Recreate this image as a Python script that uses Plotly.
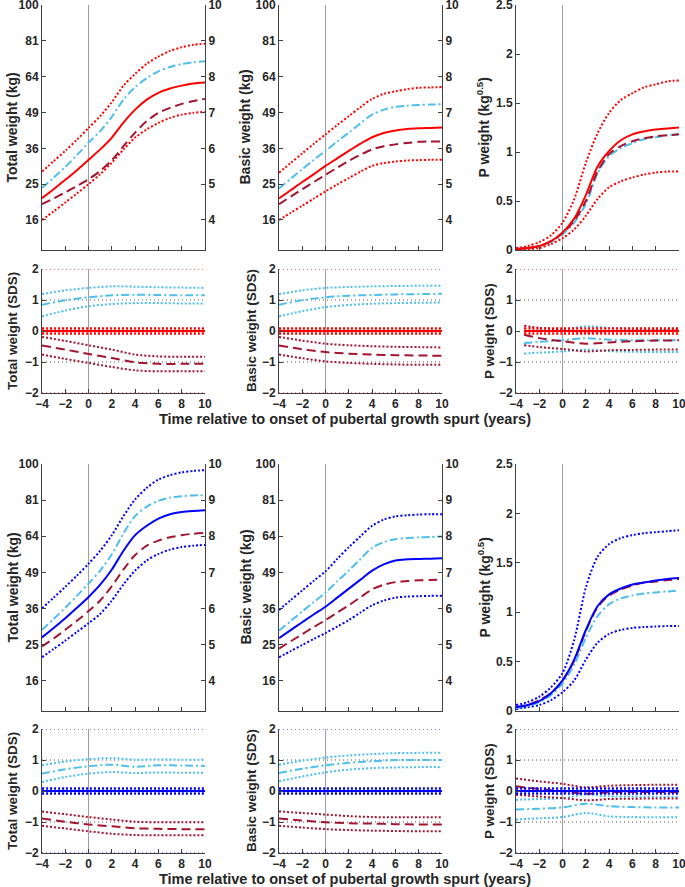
import plotly.graph_objects as go

# ---------------- data ----------------
# time relative to onset of pubertal growth spurt (years)
T = [-4, -3, -2, -1, 0, 1, 2, 3, 4, 5, 6, 7, 8, 9, 10]
T_SDS = [-4, -2, 0, 2, 4, 6, 8, 10]
T_SDS_P_TOP = [-3.3, -2, 0, 2, 4, 6, 8, 10]

# weight panels are in sqrt(kg) units (right axis), left axis labels show kg
# --- top block (red reference group) ---
top_total_ref = [4.61, 4.86, 5.12, 5.39, 5.68, 5.97, 6.30, 6.72, 7.08, 7.36, 7.55, 7.67, 7.75, 7.81, 7.84]
top_total_up = [5.35, 5.64, 5.93, 6.24, 6.57, 6.90, 7.29, 7.75, 8.08, 8.36, 8.56, 8.72, 8.82, 8.89, 8.92]
top_total_lo = [4.00, 4.24, 4.49, 4.74, 5.00, 5.28, 5.60, 5.97, 6.30, 6.53, 6.71, 6.85, 6.94, 6.99, 7.02]
top_total_lb = [4.89, 5.18, 5.48, 5.81, 6.16, 6.48, 6.88, 7.36, 7.71, 7.96, 8.15, 8.27, 8.35, 8.40, 8.43]
top_total_dr = [4.44, 4.60, 4.77, 4.95, 5.14, 5.37, 5.67, 6.06, 6.44, 6.76, 6.99, 7.13, 7.24, 7.32, 7.38]

top_basic_ref = [4.60, 4.83, 5.06, 5.28, 5.51, 5.72, 5.93, 6.13, 6.31, 6.43, 6.50, 6.54, 6.56, 6.57, 6.58]
top_basic_up = [5.32, 5.59, 5.86, 6.13, 6.39, 6.65, 6.90, 7.15, 7.38, 7.52, 7.59, 7.65, 7.69, 7.70, 7.71]
top_basic_lo = [4.00, 4.20, 4.40, 4.60, 4.80, 4.99, 5.17, 5.35, 5.51, 5.59, 5.63, 5.66, 5.67, 5.68, 5.68]
top_basic_lb = [4.88, 5.15, 5.42, 5.68, 5.93, 6.19, 6.44, 6.70, 6.94, 7.08, 7.16, 7.19, 7.21, 7.22, 7.23]
top_basic_dr = [4.44, 4.65, 4.86, 5.06, 5.26, 5.46, 5.65, 5.82, 5.97, 6.06, 6.11, 6.15, 6.18, 6.19, 6.19]

top_p_ref = [0.01, 0.02, 0.04, 0.09, 0.18, 0.32, 0.56, 0.85, 1.01, 1.12, 1.18, 1.21, 1.23, 1.24, 1.25]
top_p_up = [0.02, 0.04, 0.08, 0.15, 0.28, 0.52, 0.89, 1.19, 1.40, 1.53, 1.60, 1.66, 1.69, 1.72, 1.73]
top_p_lo = [0.00, 0.01, 0.02, 0.06, 0.12, 0.21, 0.35, 0.52, 0.64, 0.70, 0.74, 0.77, 0.79, 0.80, 0.80]
top_p_lb = [0.01, 0.02, 0.04, 0.08, 0.16, 0.28, 0.47, 0.78, 0.96, 1.04, 1.09, 1.13, 1.15, 1.17, 1.18]
top_p_dr = [0.01, 0.02, 0.04, 0.09, 0.17, 0.30, 0.50, 0.80, 0.98, 1.06, 1.11, 1.14, 1.16, 1.17, 1.18]

# --- bottom block (blue reference group) ---
bot_total_ref = [5.20, 5.46, 5.73, 6.02, 6.32, 6.66, 7.08, 7.60, 8.03, 8.29, 8.49, 8.61, 8.67, 8.70, 8.72]
bot_total_up = [6.00, 6.30, 6.60, 6.91, 7.24, 7.60, 8.03, 8.56, 9.02, 9.34, 9.57, 9.69, 9.77, 9.81, 9.83]
bot_total_lo = [4.65, 4.88, 5.11, 5.35, 5.59, 5.85, 6.22, 6.67, 7.05, 7.33, 7.51, 7.63, 7.70, 7.74, 7.76]
bot_total_lb = [5.41, 5.71, 6.02, 6.35, 6.69, 7.05, 7.50, 8.08, 8.56, 8.82, 8.98, 9.07, 9.11, 9.13, 9.14]
bot_total_dr = [4.95, 5.17, 5.41, 5.66, 5.93, 6.22, 6.62, 7.08, 7.48, 7.74, 7.88, 7.97, 8.03, 8.07, 8.09]

bot_basic_ref = [5.18, 5.40, 5.62, 5.84, 6.05, 6.30, 6.55, 6.80, 7.05, 7.22, 7.33, 7.36, 7.37, 7.38, 7.39]
bot_basic_up = [5.96, 6.23, 6.50, 6.77, 7.03, 7.37, 7.70, 8.00, 8.29, 8.46, 8.55, 8.58, 8.60, 8.61, 8.61]
bot_basic_lo = [4.65, 4.82, 4.99, 5.16, 5.32, 5.50, 5.68, 5.89, 6.09, 6.22, 6.30, 6.33, 6.34, 6.35, 6.35]
bot_basic_lb = [5.39, 5.65, 5.92, 6.18, 6.44, 6.75, 7.05, 7.37, 7.68, 7.84, 7.92, 7.95, 7.97, 7.98, 7.99]
bot_basic_dr = [4.89, 5.09, 5.29, 5.49, 5.68, 5.89, 6.09, 6.31, 6.53, 6.66, 6.73, 6.76, 6.78, 6.79, 6.80]

bot_p_ref = [0.04, 0.06, 0.10, 0.18, 0.31, 0.52, 0.82, 1.06, 1.18, 1.24, 1.28, 1.30, 1.32, 1.335, 1.345]
bot_p_up = [0.06, 0.09, 0.145, 0.24, 0.385, 0.72, 1.25, 1.56, 1.69, 1.75, 1.78, 1.80, 1.81, 1.82, 1.83]
bot_p_lo = [0.02, 0.04, 0.06, 0.11, 0.19, 0.31, 0.52, 0.69, 0.78, 0.82, 0.84, 0.85, 0.855, 0.86, 0.86]
bot_p_lb = [0.03, 0.05, 0.09, 0.16, 0.28, 0.47, 0.74, 0.96, 1.08, 1.14, 1.17, 1.19, 1.20, 1.21, 1.22]
bot_p_dr = [0.04, 0.06, 0.11, 0.18, 0.31, 0.51, 0.81, 1.05, 1.17, 1.23, 1.27, 1.30, 1.31, 1.325, 1.335]

# --- SDS (mean, upper, lower) ---
sds_ref = [0, 0, 0, 0, 0, 0, 0, 0]
sds_ref_up = [0.08, 0.08, 0.08, 0.08, 0.08, 0.08, 0.08, 0.08]
sds_ref_lo = [-0.08, -0.08, -0.08, -0.08, -0.08, -0.08, -0.08, -0.08]

top_total_sds_lb = [0.85, 0.99, 1.09, 1.15, 1.17, 1.16, 1.15, 1.15]
top_total_sds_lb_up = [1.19, 1.31, 1.39, 1.44, 1.43, 1.41, 1.40, 1.39]
top_total_sds_lb_lo = [0.47, 0.66, 0.80, 0.87, 0.90, 0.90, 0.89, 0.89]
top_total_sds_dr = [-0.47, -0.60, -0.74, -0.87, -1.01, -1.06, -1.06, -1.06]
top_total_sds_dr_up = [-0.19, -0.32, -0.46, -0.60, -0.76, -0.82, -0.83, -0.83]
top_total_sds_dr_lo = [-0.76, -0.90, -1.03, -1.16, -1.27, -1.30, -1.30, -1.30]

top_basic_sds_lb = [0.85, 0.99, 1.09, 1.14, 1.16, 1.18, 1.19, 1.20]
top_basic_sds_lb_up = [1.19, 1.31, 1.39, 1.42, 1.44, 1.45, 1.46, 1.46]
top_basic_sds_lb_lo = [0.47, 0.64, 0.77, 0.84, 0.88, 0.90, 0.91, 0.92]
top_basic_sds_dr = [-0.47, -0.59, -0.68, -0.73, -0.76, -0.78, -0.79, -0.80]
top_basic_sds_dr_up = [-0.19, -0.31, -0.41, -0.46, -0.49, -0.51, -0.52, -0.53]
top_basic_sds_dr_lo = [-0.76, -0.88, -0.98, -1.03, -1.06, -1.08, -1.09, -1.09]

top_p_sds_lb = [-0.39, -0.35, -0.30, -0.23, -0.28, -0.30, -0.30, -0.30]
top_p_sds_lb_up = [-0.01, 0.01, 0.04, 0.15, 0.10, 0.08, 0.08, 0.08]
top_p_sds_lb_lo = [-0.73, -0.70, -0.66, -0.60, -0.65, -0.67, -0.68, -0.68]
top_p_sds_dr = [-0.12, -0.23, -0.33, -0.41, -0.37, -0.33, -0.31, -0.30]
top_p_sds_dr_up = [0.17, 0.10, 0.04, -0.06, -0.01, 0.02, 0.03, 0.04]
top_p_sds_dr_lo = [-0.46, -0.52, -0.58, -0.66, -0.62, -0.61, -0.60, -0.60]

bot_total_sds_lb = [0.56, 0.70, 0.80, 0.85, 0.78, 0.83, 0.82, 0.81]
bot_total_sds_lb_up = [0.83, 0.95, 1.03, 1.06, 1.01, 1.02, 1.01, 1.01]
bot_total_sds_lb_lo = [0.29, 0.45, 0.56, 0.61, 0.58, 0.60, 0.59, 0.59]
bot_total_sds_dr = [-0.89, -0.99, -1.08, -1.14, -1.20, -1.22, -1.23, -1.23]
bot_total_sds_dr_up = [-0.66, -0.75, -0.84, -0.92, -0.99, -1.01, -1.01, -1.01]
bot_total_sds_dr_lo = [-1.12, -1.21, -1.30, -1.38, -1.42, -1.43, -1.43, -1.43]

bot_basic_sds_lb = [0.58, 0.72, 0.83, 0.91, 0.96, 1.00, 1.00, 1.00]
bot_basic_sds_lb_up = [0.85, 0.98, 1.08, 1.15, 1.19, 1.22, 1.23, 1.23]
bot_basic_sds_lb_lo = [0.31, 0.47, 0.60, 0.69, 0.74, 0.76, 0.77, 0.77]
bot_basic_sds_dr = [-0.89, -0.95, -1.01, -1.04, -1.05, -1.07, -1.08, -1.08]
bot_basic_sds_dr_up = [-0.66, -0.71, -0.76, -0.81, -0.84, -0.85, -0.85, -0.85]
bot_basic_sds_dr_lo = [-1.12, -1.18, -1.23, -1.26, -1.28, -1.29, -1.30, -1.30]

bot_p_sds_lb = [-0.60, -0.57, -0.53, -0.41, -0.49, -0.52, -0.53, -0.53]
bot_p_sds_lb_up = [-0.28, -0.26, -0.23, -0.12, -0.17, -0.18, -0.19, -0.19]
bot_p_sds_lb_lo = [-0.92, -0.88, -0.84, -0.71, -0.82, -0.84, -0.85, -0.85]
bot_p_sds_dr = [0.15, 0.06, -0.01, -0.09, -0.04, -0.03, -0.03, -0.03]
bot_p_sds_dr_up = [0.40, 0.31, 0.23, 0.12, 0.17, 0.19, 0.20, 0.20]
bot_p_sds_dr_lo = [-0.12, -0.18, -0.23, -0.30, -0.26, -0.25, -0.24, -0.24]

# tick labels
KG_TICKS = [16, 25, 36, 49, 64, 81, 100]
SQRT_TICKS = [4, 5, 6, 7, 8, 9, 10]
P_TICKS = [0, 0.5, 1, 1.5, 2, 2.5]
SDS_TICKS = [-2, -1, 0, 1, 2]
X_TICKS = [-4, -2, 0, 2, 4, 6, 8, 10]

RED = "#FF0000"
BLUE = "#0000FF"
DARKRED = "#A2142F"
LIGHTBLUE = "#4DBEEE"

# ---------------- layout helpers ----------------
W, H = 685, 887
FONT = "Liberation Sans, Arial, sans-serif"
INK = "#262626"
COLS = [(42, 205), (279, 442), (516, 679)]
ROWS = [(5, 250), (269, 393), (464, 711), (729, 853)]
TITLE_X = [12, 245, 484]
TITLE_X_SDS = [12, 251, 489]

fig = go.Figure()
shapes = []
annotations = []


def xd(c):
    return [COLS[c][0] / W, COLS[c][1] / W]


def yd(r):
    return [1 - ROWS[r][1] / H, 1 - ROWS[r][0] / H]


def base_axis():
    return dict(showline=True, linecolor="#404040", linewidth=1, ticks="inside", automargin=False,
                ticklen=4, tickcolor="#404040", showgrid=False, zeroline=False,
                ticklabeloverflow="allow",
                tickfont=dict(family=FONT, size=12, color=INK, weight="bold"))


def add_line(k, x, y, color, dash="solid", width=2, yax=None, opacity=1):
    ax = "" if k == 1 else str(k)
    fig.add_trace(go.Scatter(x=x, y=y, mode="lines", xaxis="x" + ax, yaxis=yax or ("y" + ax),
                             line=dict(color=color, dash=dash, width=width, shape="spline", smoothing=0.8),
                             opacity=opacity, showlegend=False, hoverinfo="skip"))


DOT = "2px,2px"
DASH = "9px,5px"
DASHDOT = "8px,3px,2px,3px"

ylabels = {
    (0, 0): "Total weight (kg)", (0, 1): "Basic weight (kg)", (0, 2): "P weight (kg<sup>0.5</sup>)",
    (1, 0): "Total weight (SDS)", (1, 1): "Basic weight (SDS)", (1, 2): "P weight (SDS)",
}

right_axes = {}
extra = 13
k = 0
for r in range(4):
    for c in range(3):
        k += 1
        ax = "" if k == 1 else str(k)
        is_sds = r in (1, 3)
        xa = base_axis()
        xa.update(domain=xd(c), range=[-4, 10], tickvals=X_TICKS, anchor="y" + ax,
                  showticklabels=is_sds)
        ya = base_axis()
        ya.update(domain=yd(r), anchor="x" + ax)
        if is_sds:
            ya.update(range=[-2, 2], tickvals=SDS_TICKS)
        elif c < 2:
            ya.update(range=[10 ** 0.5, 10], tickvals=SQRT_TICKS, ticktext=[str(v) for v in KG_TICKS])
            ra = base_axis()
            ra.update(overlaying="y" + ax, anchor="x" + ax, side="right", range=[10 ** 0.5, 10],
                      tickvals=SQRT_TICKS)
            fig.update_layout({"yaxis%d" % extra: ra})
            right_axes[k] = "y%d" % extra
            extra += 1
        else:
            ya.update(range=[0, 2.5], tickvals=P_TICKS)
        fig.update_layout({"xaxis" + ax: xa, "yaxis" + ax: ya})

        # y-axis title
        ymid = 1 - (ROWS[r][0] + ROWS[r][1]) / 2 / H
        annotations.append(dict(text=ylabels[(r % 2, c)], textangle=-90, xref="paper", yref="paper",
                                x=(TITLE_X_SDS[c] if is_sds else TITLE_X[c]) / W, y=ymid,
                                xanchor="center", yanchor="middle", showarrow=False,
                                font=dict(family=FONT, size=13.5 if is_sds else 14, color=INK,
                                          weight="bold")))

        # vertical line at onset
        shapes.append(dict(type="line", xref="x" + ax, yref="y%s domain" % ax, x0=0, x1=0, y0=0, y1=1,
                           line=dict(color="#9a9a9a", width=1), layer="below"))
        if is_sds:
            grp = RED if r == 1 else BLUE
            for yv, col in ((1, "#555555"), (-1, "#555555"), (2, grp), (-2, grp)):
                shapes.append(dict(type="line", xref="x%s domain" % ax, yref="y" + ax, x0=0, x1=1,
                                   y0=yv, y1=yv, line=dict(color=col, width=1, dash="1px,3px"),
                                   layer="below"))

# ---------------- traces ----------------
weight_sets = [
    (1, T, top_total_ref, top_total_up, top_total_lo, top_total_lb, top_total_dr, RED),
    (2, T, top_basic_ref, top_basic_up, top_basic_lo, top_basic_lb, top_basic_dr, RED),
    (3, T, top_p_ref, top_p_up, top_p_lo, top_p_lb, top_p_dr, RED),
    (7, T, bot_total_ref, bot_total_up, bot_total_lo, bot_total_lb, bot_total_dr, BLUE),
    (8, T, bot_basic_ref, bot_basic_up, bot_basic_lo, bot_basic_lb, bot_basic_dr, BLUE),
    (9, T, bot_p_ref, bot_p_up, bot_p_lo, bot_p_lb, bot_p_dr, BLUE),
]
for k, t, ref, up, lo, lb, dr, col in weight_sets:
    add_line(k, t, up, col, DOT)
    add_line(k, t, lo, col, DOT)
    add_line(k, t, lb, LIGHTBLUE, DASHDOT)
    add_line(k, t, dr, DARKRED, DASH)
    add_line(k, t, ref, col, "solid")
    if k in right_axes:
        # invisible copy so the right-hand sqrt(kg) axis gets drawn
        add_line(k, t, ref, col, "solid", yax=right_axes[k], opacity=0)

sds_sets = [
    (4, T_SDS, top_total_sds_lb, top_total_sds_lb_up, top_total_sds_lb_lo,
     top_total_sds_dr, top_total_sds_dr_up, top_total_sds_dr_lo, RED),
    (5, T_SDS, top_basic_sds_lb, top_basic_sds_lb_up, top_basic_sds_lb_lo,
     top_basic_sds_dr, top_basic_sds_dr_up, top_basic_sds_dr_lo, RED),
    (6, T_SDS_P_TOP, top_p_sds_lb, top_p_sds_lb_up, top_p_sds_lb_lo,
     top_p_sds_dr, top_p_sds_dr_up, top_p_sds_dr_lo, RED),
    (10, T_SDS, bot_total_sds_lb, bot_total_sds_lb_up, bot_total_sds_lb_lo,
     bot_total_sds_dr, bot_total_sds_dr_up, bot_total_sds_dr_lo, BLUE),
    (11, T_SDS, bot_basic_sds_lb, bot_basic_sds_lb_up, bot_basic_sds_lb_lo,
     bot_basic_sds_dr, bot_basic_sds_dr_up, bot_basic_sds_dr_lo, BLUE),
    (12, T_SDS, bot_p_sds_lb, bot_p_sds_lb_up, bot_p_sds_lb_lo,
     bot_p_sds_dr, bot_p_sds_dr_up, bot_p_sds_dr_lo, BLUE),
]
for k, t, lb, lbu, lbl, dr, dru, drl, col in sds_sets:
    add_line(k, t, lbu, LIGHTBLUE, DOT)
    add_line(k, t, lbl, LIGHTBLUE, DOT)
    add_line(k, t, lb, LIGHTBLUE, DASHDOT)
    add_line(k, t, dru, DARKRED, DOT)
    add_line(k, t, drl, DARKRED, DOT)
    add_line(k, t, dr, DARKRED, DASH)
    add_line(k, t, sds_ref_up, col, DOT, 2.5)
    add_line(k, t, sds_ref_lo, col, DOT, 2.5)
    add_line(k, t, sds_ref, col, "solid")

xtitle = "Time relative to onset of pubertal growth spurt (years)"
for yy in (419, 879):
    annotations.append(dict(text=xtitle, xref="paper", yref="paper", x=345 / W, y=1 - yy / H,
                            showarrow=False, xanchor="center", yanchor="middle",
                            font=dict(family=FONT, size=14.5, color=INK, weight="bold")))

fig.update_layout(width=W, height=H, margin=dict(l=0, r=0, t=0, b=0),
                  paper_bgcolor="white", plot_bgcolor="white",
                  shapes=shapes, annotations=annotations, showlegend=False)

# drop the default page margin so the figure sits at the window's top-left corner
fig.write_html("out.html", config={"displayModeBar": False},
               post_script="document.body.style.margin='0';document.body.style.overflow='hidden';")
